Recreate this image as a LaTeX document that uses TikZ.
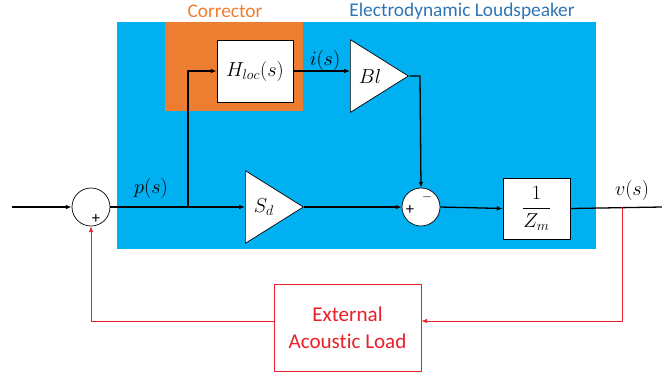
\documentclass[tikz,border=0pt]{standalone}
\usepackage{fontspec}
\setmainfont{Carlito}[Ligatures=NoCommon]
\usepackage{amsmath}
\usetikzlibrary{shapes.geometric,arrows.meta}
\definecolor{azul}{HTML}{00B0F0}
\definecolor{naranja}{HTML}{ED7D31}
\definecolor{azultxt}{HTML}{2E75B6}
\definecolor{rojo}{HTML}{E8202A}
\begin{document}
\begin{tikzpicture}[x=0.03cm, y=-0.03cm, line join=round,
  bloque/.style={draw, fill=white, line width=0.6pt, inner sep=0pt, font=\fontsize{17}{20}\selectfont},
  suma/.style={draw, fill=white, circle, minimum size=1.14cm, inner sep=0pt, line width=0.6pt},
  ganancia/.style={draw, fill=white, isosceles triangle, isosceles triangle stretches,
    minimum height=1.74cm, minimum width=2.18cm, inner sep=0pt, line width=0.6pt,
    anchor=lower side, font=\fontsize{17}{20}\selectfont},
  flecha/.style={line width=1.1pt, -{Latex[length=5pt,width=4pt]}},
  linea/.style={line width=1.1pt},
  retorno/.style={draw=rojo, line width=0.8pt, -{Latex[length=5pt,width=4pt]}},
  signo/.style={inner sep=0pt, font=\fontsize{14}{14}\selectfont},
  etiq/.style={inner sep=0pt, font=\fontsize{17}{20}\selectfont}]
  \useasboundingbox (0,0) rectangle (662,378);
  % los fondos
  \fill[azul] (117,22) rectangle (596,249);
  \fill[naranja] (165,22) rectangle (303,111);
  \node[text=naranja, font=\fontsize{16.5}{18}\selectfont] (tcorr) at (225,11) {Corrector};
  \node[text=azultxt, font=\fontsize{16.5}{18}\selectfont] (taltav) at (462,11) {Electrodynamic Loudspeaker};
  % los bloques
  \node[suma] (s1) at (91,207) {};
  \node[suma] (s2) at (421,207) {};
  \node[bloque, minimum width=2.28cm, minimum height=1.86cm] (h) at (255,71) {$H_{loc}(s)$};
  \node[ganancia] (bl) at (350,76) {$Bl$};
  \node[ganancia] (sd) at (245,207) {$S_d$};
  \node[bloque, minimum width=2.01cm, minimum height=1.83cm] (zm) at (536.5,208.5) {$\dfrac{1}{Z_m}$};
  \node[draw=rojo, fill=white, line width=0.6pt, minimum width=4.41cm, minimum height=2.61cm,
    align=center, text=rojo, font=\fontsize{18}{23}\selectfont] (carga) at (347.5,327.5) {External\\Acoustic Load};
  % signos
  \node[signo] (m1) at (96,219) {+};
  \node[signo] (m2) at (410,210) {+};
  \node[signo, text=black, font=\fontsize{11}{11}\selectfont] (m3) at (427,197) {$-$};
  % las flechas
  \coordinate (ent) at (12,207);
  \coordinate (rama) at (188,207);
  \coordinate (codo) at (420,76);
  \coordinate (sal) at (662,207);
  \coordinate (vtap) at (622,207);
  \coordinate (abajo) at (622,321);
  \coordinate (izq) at (91,321);
  \draw[flecha] (ent) -- (s1.west);
  \draw[flecha] (s1.east) -- (s1.east -| sd.lower side);
  \draw[flecha] (rama) |- (h.west);
  \draw[flecha] (h.east) -- (h.east -| bl.lower side);
  \draw[flecha] (bl.apex) -- (codo) -- (s2.north);
  \draw[flecha] (sd.apex) -- (s2.west);
  \draw[flecha] (s2.east) -- (zm.west);
  \draw[linea] (zm.east) -- (sal);
  \draw[retorno] (vtap) -- (abajo) -- (abajo -| carga.east);
  \draw[retorno] (izq -| carga.west) -- (izq) -- (s1.south);
  % etiquetas
  \node[etiq] (ps) at (151,188) {$p(s)$};
  \node[etiq] (is) at (325,60) {$i(s)$};
  \node[etiq] (vs) at (632,190) {$v(s)$};
\end{tikzpicture}
\end{document}
